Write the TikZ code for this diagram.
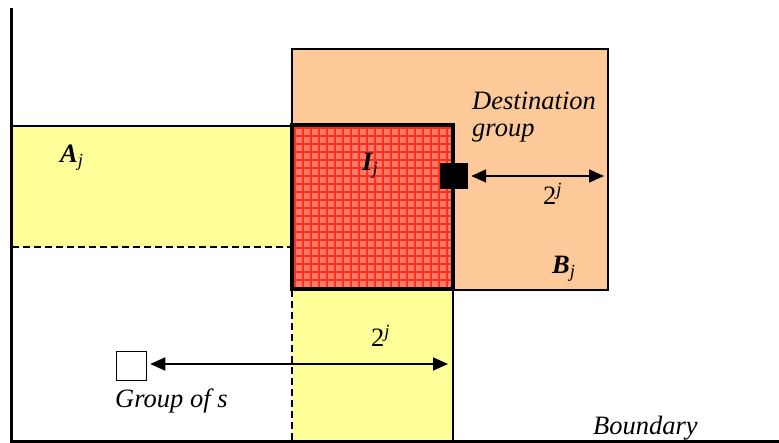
\documentclass[tikz,border=0pt]{standalone}
\usepackage{fontspec}
\setmainfont{Liberation Serif}
\usetikzlibrary{arrows.meta,calc}
\definecolor{orangeB}{RGB}{253,201,153}
\definecolor{yellowA}{RGB}{255,255,153}
\definecolor{redI}{RGB}{250,125,100}
\definecolor{gridI}{RGB}{255,45,35}
\begin{document}
\begin{tikzpicture}[x=1pt,y=-1pt,
  region/.style={inner sep=0pt, outer sep=0pt, anchor=north west},
  lbl/.style={inner sep=0pt, anchor=base west, font=\fontsize{26.5}{31}\selectfont},
  itlbl/.style={lbl, font=\fontsize{26.5}{31}\selectfont\itshape},
  dim/.style={line width=1.8pt, {Triangle[length=15pt,width=13pt]}-{Triangle[length=15pt,width=13pt]}}]
\useasboundingbox (0,0) rectangle (779,443);
\fill[white] (0,0) rectangle (779,443);
% B region
\node[region, draw, fill=orangeB, line width=1.3pt, minimum width=316pt, minimum height=241pt] (B) at (292,49) {};
% A region
\node[region, fill=yellowA, minimum width=280pt, minimum height=121pt] (A) at (12,126) {};
\draw[line width=1.3pt] (A.north west) -- (A.north east);
\draw[line width=1.3pt, dash pattern=on 7pt off 4pt] (A.south west) -- (A.south east);
% lower yellow region
\node[region, fill=yellowA, minimum width=161pt, minimum height=151pt] (L) at (292,290) {};
\draw[line width=1.3pt, dash pattern=on 7pt off 4pt] (L.north west) -- (L.south west);
\draw[line width=1.3pt] (L.north east) -- (L.south east);
% I region
\node[region, fill=redI, minimum width=161pt, minimum height=164pt] (I) at (292,125) {};
\begin{scope}
\clip (I.north west) rectangle (I.south east);
\foreach \k in {0,...,21} {
  \draw[gridI, line width=1.2pt] ($(I.north west)+(\k*8+3,0)$) -- ++(0,164);
  \draw[gridI, line width=1.2pt] ($(I.north west)+(0,\k*8+3)$) -- ++(161,0);
}
\end{scope}
\draw[line width=3.2pt] (I.north west) rectangle (I.south east);
% boundary lines
\coordinate (top) at (11,8);
\coordinate (corner) at (11,441);
\coordinate (right) at (779,441);
\draw[line width=3pt] (top) -- (corner) -- (right);
% destination square
\node[fill=black, minimum width=28pt, minimum height=26pt, inner sep=0pt] (D) at (454,176) {};
\coordinate (Bend) at (604,176);
\draw[dim] ($(D.east)+(3,0)$) -- (Bend);
% source square
\node[draw, fill=white, line width=1.5pt, minimum width=30pt, minimum height=29pt, inner sep=0pt] (S) at (131.5,366) {};
\coordinate (Lend) at (448,364);
\draw[dim] ($(S.east)+(3,-2)$) -- (Lend);
% labels
\node[lbl] (Aj) at (60,163) {{\bfseries\itshape A}\textsubscript{\itshape j}};
\node[lbl] (Ij) at (362,171) {{\bfseries\itshape I}\textsubscript{\itshape j}};
\node[lbl] (Bj) at (552,274) {{\bfseries\itshape B}\textsubscript{\itshape j}};
\node[itlbl] (dest1) at (472,110) {Destination};
\node[itlbl] (dest2) at (472,137) {group};
\node[lbl] (d1) at (543,205) {2\textsuperscript{\itshape j}};
\node[lbl] (d2) at (371,347) {2\textsuperscript{\itshape j}};
\node[itlbl] (gs) at (115,407) {Group of s};
\node[itlbl] (bd) at (593,435) {Boundary};
\end{tikzpicture}
\end{document}
